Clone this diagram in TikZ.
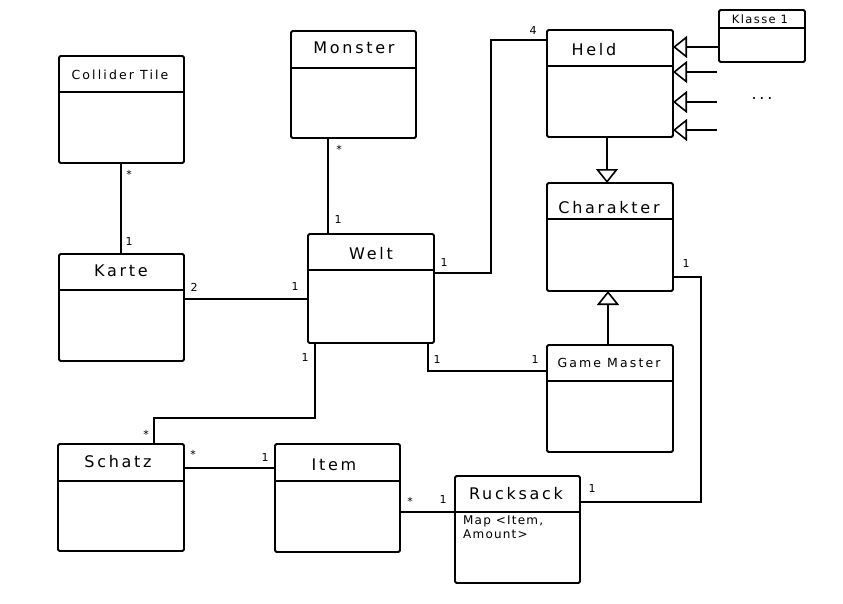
\documentclass[tikz,border=0pt]{standalone}
\usepackage{fontspec}
\setmainfont{DejaVu Sans}
\newfontfamily\tfont{DejaVu Sans}[LetterSpace=17]
\newfontfamily\kfont{DejaVu Sans}[LetterSpace=12]
\newfontfamily\afont{DejaVu Sans}[LetterSpace=10]
\usetikzlibrary{arrows.meta,calc}
\tikzset{
 cls/.style={draw, line width=1.8pt, rounded corners=1.5pt, inner sep=0pt, outer sep=0pt},
 div/.style={line width=1.4pt},
 ttl/.style={anchor=base, inner sep=0pt, font=\tfont\fontsize{16}{18}\selectfont},
 sttl/.style={anchor=base, inner sep=0pt, font=\tfont\fontsize{12.5}{14}\selectfont},
 lbl/.style={inner sep=0pt, font=\fontsize{11}{13}\selectfont},
 con/.style={line width=1.6pt},
 inh/.style={con, -{Triangle[open, length=14pt, width=22pt, line width=1.6pt]}}
}
\newcommand\mkclass[6]{%
 \node[cls, minimum width=#4pt, minimum height=#5pt, anchor=north west] (#1) at (#2,#3) {};
 \draw[div] ($(#1.north west)+(0,#6)$) -- ($(#1.north east)+(0,#6)$);
}
\begin{document}
\begin{tikzpicture}[x=1pt,y=-1pt]
\useasboundingbox[fill=white] (0,0) rectangle (843,603);

\mkclass{collider}{59}{56}{125}{107}{36}
\mkclass{monster}{291}{31}{125}{107}{37}
\mkclass{held}{547}{30}{126}{107}{36}
\mkclass{klasse}{719}{10}{86}{52}{18}
\mkclass{charakter}{547}{183}{126}{108}{36}
\mkclass{welt}{308}{234}{126}{109}{36}
\mkclass{karte}{59}{254}{125}{107}{36}
\mkclass{gm}{547}{345}{126}{107}{36}
\mkclass{schatz}{58}{444}{126}{107}{37}
\mkclass{item}{275}{444}{125}{108}{37}
\mkclass{rucksack}{455}{476}{125}{107}{36}

\node[sttl] (collider-t) at (120,79) {Collider Tile};
\node[ttl] (monster-t) at (354,53) {Monster};
\node[ttl] (held-t) at (594,55) {Held};
\node[anchor=base, inner sep=0pt, font=\kfont\fontsize{11.5}{13}\selectfont] (klasse-t) at (760,23) {Klasse 1};
\node[ttl] (charakter-t) at (609,213) {Charakter};
\node[ttl] (welt-t) at (371,259) {Welt};
\node[ttl] (karte-t) at (121,276) {Karte};
\node[sttl] (gm-t) at (609,367) {Game Master};
\node[ttl] (schatz-t) at (118,467) {Schatz};
\node[ttl] (item-t) at (334,470) {Item};
\node[ttl] (rucksack-t) at (516,499) {Rucksack};
\node[anchor=north west, inner sep=0pt, align=left, font=\afont\fontsize{12}{14}\selectfont] (rucksack-a) at (463,516) {Map <Item,\\Amount>};
\node[ttl] (dots) at (762,99) {...};

% inheritance
\draw[inh] ($(klasse.north west)+(0,37)$) -- ($(held.north east)+(0,17)$);
\coordinate (h2) at (717,72);
\coordinate (h3) at (717,102);
\coordinate (h4) at (717,130);
\draw[inh] (h2) -- ($(held.north east)+(0,42)$);
\draw[inh] (h3) -- ($(held.north east)+(0,72)$);
\draw[inh] (h4) -- ($(held.north east)+(0,100)$);
\draw[inh] ($(held.south west)+(60,0)$) -- ($(charakter.north west)+(60,0)$);
\draw[inh] ($(gm.north west)+(61,0)$) -- ($(charakter.south west)+(61,0)$);

% associations
\draw[con] ($(collider.south west)+(62,0)$) -- ($(karte.north west)+(62,0)$);
\draw[con] ($(monster.south west)+(37,0)$) -- ($(welt.north west)+(20,0)$);
\draw[con] ($(karte.north east)+(0,45)$) -- ($(welt.north west)+(0,65)$);
\draw[con] ($(welt.north east)+(0,39)$) -- ++(57,0) |- ($(held.north west)+(0,10)$);
\draw[con] ($(welt.south west)+(120,0)$) |- ($(gm.north west)+(0,26)$);
\draw[con] ($(welt.south west)+(7,0)$) -- ++(0,75) -| ($(schatz.north west)+(96,0)$);
\draw[con] ($(schatz.north east)+(0,24)$) -- ($(item.north west)+(0,24)$);
\draw[con] ($(item.north east)+(0,68)$) -- ($(rucksack.north west)+(0,36)$);
\draw[con] ($(rucksack.north east)+(0,26)$) -- ++(121,0) |- ($(charakter.north east)+(0,94)$);

% multiplicities
\node[lbl] (m1) at (129,174) {*};
\node[lbl] (m2) at (129,241) {1};
\node[lbl] (m3) at (339,149) {*};
\node[lbl] (m4) at (338,219) {1};
\node[lbl] (m5) at (194,287) {2};
\node[lbl] (m6) at (295,286) {1};
\node[lbl] (m7) at (444,262) {1};
\node[lbl] (m8) at (533,30) {4};
\node[lbl] (m9) at (305,357) {1};
\node[lbl] (m10) at (437,359) {1};
\node[lbl] (m11) at (535,359) {1};
\node[lbl] (m12) at (146,434) {*};
\node[lbl] (m13) at (193,454) {*};
\node[lbl] (m14) at (265,457) {1};
\node[lbl] (m15) at (410,501) {*};
\node[lbl] (m16) at (443,499) {1};
\node[lbl] (m17) at (592,488) {1};
\node[lbl] (m18) at (686,263) {1};
\end{tikzpicture}
\end{document}
